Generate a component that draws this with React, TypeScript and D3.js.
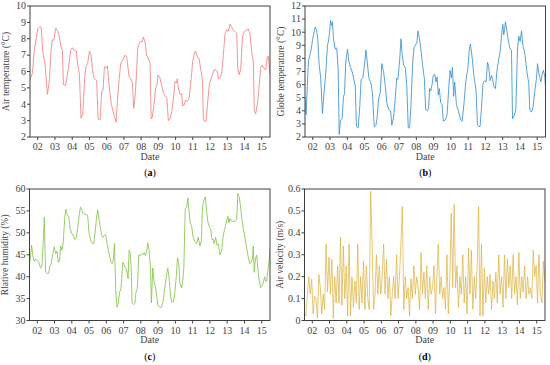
import React from 'react';
import * as d3 from 'd3';

// [day of month, value]
const AIR_TEMP: [number, number][] = [
  [1.55, 5.5], [1.69, 5.9], [1.81, 7.4], [2.0, 8.6], [2.14, 8.75], [2.21, 8.6], [2.29, 7.2], [2.43, 6.4],
  [2.56, 4.6], [2.68, 5.5], [2.77, 7.3], [2.85, 7.95], [2.93, 7.9], [3.04, 8.65], [3.14, 8.5], [3.24, 8.2],
  [3.35, 7.5], [3.43, 7.3], [3.49, 5.2], [3.62, 5.15], [3.78, 6.2], [3.91, 7.3], [4.01, 7.45], [4.11, 7.3],
  [4.24, 7.25], [4.3, 6.6], [4.42, 5.8], [4.51, 3.15], [4.61, 3.4], [4.73, 5.7], [4.8, 6.3], [4.9, 6.5],
  [5.0, 7.25], [5.09, 7.0], [5.19, 6.0], [5.27, 5.6], [5.42, 5.45], [5.5, 3.1], [5.62, 3.05], [5.71, 4.8],
  [5.79, 4.85], [5.87, 6.3], [5.95, 6.2], [6.04, 6.35], [6.16, 5.0], [6.27, 4.0], [6.41, 3.4], [6.55, 2.9],
  [6.64, 4.5], [6.72, 5.5], [6.82, 6.5], [6.93, 6.7], [7.07, 7.0], [7.16, 6.9], [7.3, 5.7], [7.42, 5.5],
  [7.49, 5.3], [7.57, 3.75], [7.65, 4.5], [7.74, 6.0], [7.8, 7.4], [7.9, 7.75], [7.98, 7.85], [8.05, 7.8],
  [8.13, 8.1], [8.23, 7.8], [8.32, 7.0], [8.44, 6.75], [8.52, 6.5], [8.58, 3.1], [8.65, 3.2], [8.77, 4.2],
  [8.85, 5.0], [8.92, 5.2], [8.98, 5.8], [9.08, 5.65], [9.18, 5.2], [9.29, 4.7], [9.39, 4.5], [9.49, 4.4],
  [9.58, 3.0], [9.68, 3.1], [9.79, 3.6], [9.89, 4.5], [9.97, 5.4], [10.05, 5.3], [10.1, 5.55], [10.16, 5.0],
  [10.26, 4.6], [10.36, 4.65], [10.41, 3.9], [10.49, 3.95], [10.59, 4.25], [10.68, 4.2], [10.78, 4.3],
  [10.9, 5.5], [10.99, 6.6], [11.11, 7.2], [11.17, 7.25], [11.27, 6.85], [11.36, 6.8], [11.48, 6.0],
  [11.56, 5.5], [11.61, 3.1], [11.69, 2.95], [11.77, 2.95], [11.85, 4.0], [11.96, 5.2], [12.1, 5.7],
  [12.23, 6.1], [12.35, 6.1], [12.43, 6.0], [12.48, 5.55], [12.58, 5.6], [12.68, 5.9], [12.77, 7.0],
  [12.87, 8.3], [12.97, 8.55], [13.06, 8.45], [13.16, 8.9], [13.26, 8.7], [13.35, 8.5], [13.45, 8.45],
  [13.55, 8.35], [13.61, 6.2], [13.68, 5.8], [13.78, 6.1], [13.88, 8.1], [13.99, 8.45], [14.09, 8.5],
  [14.22, 8.6], [14.32, 8.3], [14.42, 7.2], [14.51, 6.6], [14.57, 3.6], [14.65, 3.4], [14.77, 4.2],
  [14.86, 5.2], [14.94, 6.2], [15.02, 6.4], [15.13, 6.2], [15.23, 6.1], [15.33, 6.9], [15.38, 6.95], [15.48, 5.8],
];

const GLOBE_TEMP: [number, number][] = [
  [1.55, 5.0], [1.61, 3.7], [1.75, 7.8], [1.88, 8.5], [2.0, 9.5], [2.14, 10.4], [2.21, 10.2], [2.29, 9.5],
  [2.37, 7.5], [2.46, 6.5], [2.56, 3.8], [2.66, 5.5], [2.77, 7.2], [2.85, 9.0], [2.91, 9.3], [2.97, 10.0],
  [3.03, 10.9], [3.08, 10.5], [3.14, 10.8], [3.2, 9.5], [3.3, 8.7], [3.39, 8.8], [3.47, 7.2], [3.53, 2.2],
  [3.61, 3.3], [3.7, 3.4], [3.78, 5.1], [3.84, 5.3], [3.91, 7.7], [4.01, 8.7], [4.09, 7.8], [4.19, 7.3],
  [4.3, 6.9], [4.46, 5.9], [4.53, 2.8], [4.63, 2.7], [4.73, 4.5], [4.8, 6.4], [4.9, 6.5], [5.0, 7.5],
  [5.08, 8.65], [5.15, 7.8], [5.25, 6.5], [5.37, 6.1], [5.46, 5.3], [5.56, 2.75], [5.66, 2.9], [5.73, 3.5],
  [5.81, 4.9], [5.91, 5.4], [6.0, 7.6], [6.1, 7.0], [6.2, 5.9], [6.29, 4.6], [6.39, 4.1], [6.51, 4.0],
  [6.58, 2.9], [6.68, 3.5], [6.78, 5.0], [6.86, 6.5], [6.93, 6.4], [7.03, 7.8], [7.11, 9.5], [7.18, 8.3],
  [7.26, 7.5], [7.36, 7.3], [7.45, 5.8], [7.53, 2.7], [7.61, 2.7], [7.69, 4.5], [7.78, 7.5], [7.86, 8.8],
  [7.94, 9.0], [8.03, 9.2], [8.09, 10.1], [8.17, 9.6], [8.27, 8.6], [8.36, 7.5], [8.46, 6.5], [8.54, 4.1],
  [8.63, 4.0], [8.71, 4.2], [8.77, 5.7], [8.83, 5.5], [8.91, 6.0], [8.98, 6.7], [9.06, 6.8], [9.14, 6.2],
  [9.2, 6.6], [9.27, 5.2], [9.33, 5.7], [9.41, 4.6], [9.49, 4.5], [9.56, 3.2], [9.68, 3.3], [9.78, 3.7],
  [9.87, 5.6], [9.95, 7.1], [10.03, 6.5], [10.09, 7.3], [10.16, 5.1], [10.22, 6.2], [10.32, 4.5],
  [10.45, 3.9], [10.57, 3.3], [10.65, 3.2], [10.74, 4.3], [10.86, 6.2], [10.98, 7.2], [11.07, 8.7],
  [11.13, 9.1], [11.23, 8.1], [11.34, 6.6], [11.46, 5.5], [11.54, 2.9], [11.61, 2.8], [11.69, 2.8],
  [11.77, 4.2], [11.86, 6.1], [11.96, 6.3], [12.04, 6.2], [12.12, 7.7], [12.19, 7.4], [12.27, 6.3],
  [12.35, 6.7], [12.42, 6.4], [12.5, 5.8], [12.58, 5.7], [12.68, 7.2], [12.77, 7.9], [12.87, 8.7],
  [12.95, 10.0], [13.01, 10.6], [13.06, 9.8], [13.12, 10.3], [13.16, 10.8], [13.24, 10.1], [13.31, 9.5],
  [13.41, 8.8], [13.51, 8.6], [13.57, 3.4], [13.66, 3.6], [13.76, 4.1], [13.86, 8.7], [13.93, 9.7],
  [14.01, 9.3], [14.09, 10.1], [14.17, 9.0], [14.28, 8.4], [14.4, 7.0], [14.51, 6.1], [14.57, 4.1],
  [14.67, 3.9], [14.76, 4.3], [14.86, 5.5], [14.96, 6.5], [15.02, 7.6], [15.09, 6.9], [15.21, 6.2],
  [15.29, 6.8], [15.36, 7.1], [15.44, 6.6], [15.48, 5.8],
];

const HUMIDITY: [number, number][] = [
  [1.55, 43], [1.59, 44], [1.67, 47.2], [1.75, 44.5], [1.83, 43.5], [1.9, 44.0], [2.0, 43.7], [2.1, 43.2],
  [2.19, 42.0], [2.27, 42.3], [2.35, 48], [2.41, 53.6], [2.48, 41], [2.58, 40.7], [2.66, 40.8], [2.74, 42.5],
  [2.81, 43], [2.91, 45.5], [2.99, 46.8], [3.06, 45.2], [3.14, 45.8], [3.22, 43.2], [3.3, 44], [3.35, 47],
  [3.43, 46], [3.51, 48], [3.59, 53.5], [3.66, 55.4], [3.74, 54], [3.82, 53.8], [3.9, 51], [3.99, 49.9],
  [4.07, 49.5], [4.17, 48.5], [4.26, 48.8], [4.34, 51], [4.42, 53.8], [4.5, 55.9], [4.57, 55.3], [4.65, 54.5],
  [4.75, 54.2], [4.84, 54.2], [4.92, 54], [5.0, 50], [5.08, 48.5], [5.17, 47.7], [5.27, 47.5], [5.35, 50],
  [5.42, 53], [5.5, 55.3], [5.58, 53], [5.66, 51], [5.73, 49.5], [5.81, 49], [5.89, 49.5], [5.97, 49.4],
  [6.04, 47.5], [6.12, 46], [6.2, 44.5], [6.27, 43.2], [6.35, 43], [6.41, 44], [6.47, 47.6], [6.55, 36.5],
  [6.62, 33.0], [6.7, 34], [6.76, 36.5], [6.84, 37], [6.89, 39.5], [6.95, 43.3], [7.03, 42.7], [7.11, 42],
  [7.18, 41.5], [7.26, 39.5], [7.32, 46], [7.38, 45.5], [7.44, 42], [7.49, 34], [7.57, 33.7], [7.65, 33.8],
  [7.72, 36.5], [7.8, 37.3], [7.88, 45], [7.96, 44.8], [8.03, 45.2], [8.11, 45], [8.19, 45.5], [8.27, 44.8],
  [8.34, 46], [8.4, 47.7], [8.48, 46], [8.56, 42], [8.61, 34], [8.69, 42], [8.77, 38.8], [8.85, 37.5],
  [8.92, 35.5], [9.0, 33.3], [9.1, 33], [9.19, 33], [9.29, 34.5], [9.39, 37.5], [9.49, 40.5], [9.56, 42],
  [9.64, 39.5], [9.72, 35.5], [9.79, 34.2], [9.89, 34.3], [9.97, 36.5], [10.05, 40], [10.12, 44.3],
  [10.2, 43], [10.26, 38.5], [10.34, 37.5], [10.41, 38.5], [10.49, 42], [10.57, 55.5], [10.65, 55.8],
  [10.72, 58], [10.78, 55.5], [10.86, 52.3], [10.94, 51.5], [11.03, 49], [11.13, 48], [11.23, 47.5],
  [11.32, 49], [11.42, 47], [11.5, 48], [11.57, 56], [11.65, 57.5], [11.73, 58.2], [11.81, 55],
  [11.88, 52.5], [11.96, 51.5], [12.04, 51], [12.12, 48.5], [12.19, 48.5], [12.25, 47.5], [12.33, 49],
  [12.41, 47.2], [12.48, 47.5], [12.58, 45], [12.68, 45.8], [12.77, 49.5], [12.87, 51], [12.97, 52.8],
  [13.04, 53.8], [13.1, 52.3], [13.16, 53.3], [13.26, 52.6], [13.35, 52.6], [13.45, 52.7], [13.55, 53],
  [13.62, 59], [13.7, 58], [13.76, 56.5], [13.84, 53.5], [13.93, 51], [14.03, 49], [14.13, 46.5],
  [14.22, 44.5], [14.3, 43], [14.38, 43.2], [14.46, 44], [14.51, 47], [14.57, 41], [14.63, 44],
  [14.71, 44.9], [14.77, 42], [14.84, 39.5], [14.94, 37.5], [15.02, 38], [15.09, 38.5], [15.17, 40],
  [15.23, 39], [15.29, 39], [15.36, 41.5], [15.44, 44], [15.48, 46.5],
];

// air velocity, one reading every 2 h from day 1.55
const VEL_START = 1.55;
const VEL_STEP = 1 / 12;
const VELOCITY = [
  0.03, 0.02, 0.12, 0.2, 0.12, 0.19, 0.03, 0.11, 0.1, 0.01, 0.21, 0.15,
  0.03, 0.12, 0.05, 0.35, 0.13, 0.29, 0.12, 0.28, 0.01, 0.2, 0.08, 0.25,
  0.08, 0.38, 0.07, 0.34, 0.1, 0.25, 0.02, 0.35, 0.02, 0.2, 0.06, 0.18,
  0.08, 0.35, 0.05, 0.2, 0.08, 0.27, 0.05, 0.25, 0.1, 0.05, 0.59, 0.35,
  0.05, 0.12, 0.3, 0.12, 0.25, 0.12, 0.2, 0.35, 0.12, 0.28, 0.1, 0.2,
  0.02, 0.12, 0.2, 0.1, 0.3, 0.1, 0.2, 0.35, 0.52, 0.05, 0.2, 0.1,
  0.15, 0.02, 0.19, 0.1, 0.25, 0.12, 0.2, 0.15, 0.05, 0.31, 0.12, 0.22,
  0.1, 0.25, 0.05, 0.2, 0.12, 0.15, 0.25, 0.03, 0.2, 0.35, 0.12, 0.2,
  0.1, 0.15, 0.05, 0.3, 0.03, 0.2, 0.49, 0.15, 0.53, 0.15, 0.25, 0.06,
  0.2, 0.12, 0.3, 0.08, 0.2, 0.03, 0.33, 0.12, 0.32, 0.05, 0.2, 0.1,
  0.25, 0.52, 0.02, 0.35, 0.02, 0.24, 0.08, 0.2, 0.12, 0.21, 0.05, 0.18,
  0.1, 0.22, 0.08, 0.3, 0.12, 0.2, 0.06, 0.3, 0.1, 0.28, 0.15, 0.25,
  0.1, 0.3, 0.12, 0.2, 0.07, 0.31, 0.1, 0.2, 0.13, 0.25, 0.1, 0.2,
  0.12, 0.15, 0.1, 0.32, 0.2, 0.25, 0.08, 0.3, 0.12, 0.08, 0.27, 0.18,
];

const DAY_TICKS = [2, 3, 4, 5, 6, 7, 8, 9, 10, 11, 12, 13, 14, 15];
const DAY_LABELS = ['02', '03', '04', '05', '06', '07', '08', '09', '10', '11', '12', '13', '14', '15'];
const DAY_DOMAIN: [number, number] = [1.55, 15.48];

const FONT = "'Liberation Serif', 'Times New Roman', serif";

type PanelProps = {
  id: string;
  left: number;
  top: number;
  width: number;
  height: number;
  data: [number, number][];
  yDomain: [number, number];
  yTicks: number[];
  yFormat: (v: number) => string;
  color: string;
  lineWidth?: number;
  yTitle: string;
  tag: string;
};

const Panel = ({ id, left, top, width, height, data, yDomain, yTicks, yFormat, color, lineWidth = 0.9, yTitle, tag }: PanelProps) => {
  const x = d3.scaleLinear().domain(DAY_DOMAIN).range([0, width]);
  const y = d3.scaleLinear().domain(yDomain).range([height, 0]);
  const line = d3
    .line<[number, number]>()
    .x((d) => x(d[0]))
    .y((d) => y(d[1]));

  return (
    <g transform={`translate(${left},${top})`} fontFamily={FONT} fontSize={10} fill="#444">
      <clipPath id={`clip-${id}`}>
        <rect width={width} height={height} />
      </clipPath>
      <path d={line(data) ?? ''} fill="none" stroke={color} strokeWidth={lineWidth} strokeLinejoin="round" clipPath={`url(#clip-${id})`} />
      <rect width={width} height={height} fill="none" stroke="#404040" strokeWidth={1} />
      {yTicks.map((t) => (
        <g key={t} transform={`translate(0,${y(t)})`}>
          <line x1={-3} x2={0} stroke="#404040" />
          <text x={-4} dy="0.33em" textAnchor="end">{yFormat(t)}</text>
        </g>
      ))}
      {DAY_TICKS.map((t, i) => (
        <g key={t} transform={`translate(${x(t)},${height})`}>
          <line y1={0} y2={3} stroke="#404040" />
          <text y={13} textAnchor="middle">{DAY_LABELS[i]}</text>
        </g>
      ))}
      <text x={width / 2} y={height + 22.5} textAnchor="middle">Date</text>
      <text transform={`translate(${-21.5},${height / 2}) rotate(-90)`} textAnchor="middle" fontSize={9.5}>{yTitle}</text>
      <text x={width / 2} y={height + 39} textAnchor="middle" fill="#000">
        (<tspan fontWeight="bold">{tag}</tspan>)
      </text>
    </g>
  );
};

const App = () => {
  const velocity: [number, number][] = VELOCITY.map((v, i) => [VEL_START + i * VEL_STEP, v]);
  return (
    <svg width={550} height={365} style={{ position: 'absolute', left: 0, top: 0, background: '#fff' }}>
      <Panel id="a" left={30} top={6} width={240} height={131} data={AIR_TEMP} yDomain={[2, 10]}
        yTicks={[2, 3, 4, 5, 6, 7, 8, 9, 10]} yFormat={(v) => String(v)} color="#f08a8a"
        yTitle="Air temperature (°C)" tag="a" />
      <Panel id="b" left={305} top={6} width={240.5} height={131} data={GLOBE_TEMP} yDomain={[2, 12]}
        yTicks={[2, 3, 4, 5, 6, 7, 8, 9, 10, 11, 12]} yFormat={(v) => String(v)} color="#4599d0"
        yTitle="Globe temperature (°C)" tag="b" />
      <Panel id="c" left={29.5} top={189} width={240.5} height={131.5} data={HUMIDITY} yDomain={[30, 60]}
        yTicks={[30, 35, 40, 45, 50, 55, 60]} yFormat={(v) => String(v)} color="#8cc757"
        yTitle="Rlative humidity (%)" tag="c" />
      <Panel id="d" left={304.5} top={189} width={240.5} height={131.5} data={velocity} yDomain={[0, 0.6]}
        yTicks={[0, 0.1, 0.2, 0.3, 0.4, 0.5, 0.6]} yFormat={(v) => (v === 0 ? '0' : d3.format('.1f')(v))}
        color="#ddb447" lineWidth={0.75} yTitle="Air velocity (m/s)" tag="d" />
    </svg>
  );
};

export default App;
